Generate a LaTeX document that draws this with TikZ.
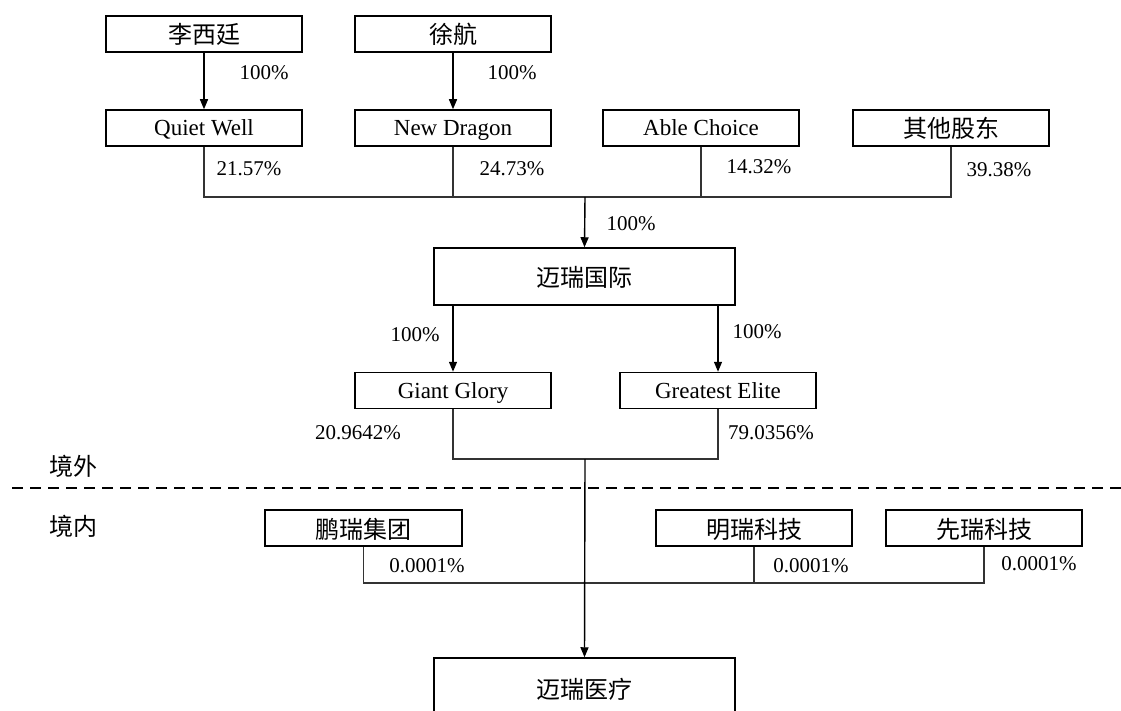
\documentclass[tikz,border=0pt]{standalone}
\usepackage{fontspec}
\setmainfont{Liberation Serif}
\newfontfamily\cjk{Noto Sans CJK SC}
\usetikzlibrary{arrows.meta}

\tikzset{
  box/.style={draw, line width=1.5pt, minimum width=196pt, minimum height=36pt,
    inner sep=0pt, text height=16pt, text depth=0pt, font=\fontsize{23}{27}\selectfont},
  cbox/.style={box, text height=20pt, font=\cjk\fontsize{24}{28}\selectfont},
  pct/.style={inner sep=0pt, text height=15pt, text depth=0pt, font=\fontsize{21}{25}\selectfont},
  zone/.style={inner sep=0pt, text height=20pt, text depth=0pt, font=\cjk\fontsize{24}{28}\selectfont},
  arr/.style={-{Triangle[length=10pt,width=8pt]}, line width=1.4pt},
  link/.style={line width=1.4pt, draw=black!80},
}

\begin{document}
\begin{tikzpicture}[x=1pt,y=-1pt]
  \useasboundingbox (0,0) rectangle (1121,711);
  % shareholders
  \node[cbox] (li) at (204,34)  {李西廷};
  \node[cbox] (xu) at (453,34)  {徐航};
  \node[box]  (qw) at (204,128) {Quiet Well};
  \node[box]  (nd) at (453,128) {New Dragon};
  \node[box]  (ac) at (701,128) {Able Choice};
  \node[cbox] (ot) at (951,128) {其他股东};
  \node[cbox, minimum width=301pt, minimum height=57pt] (mi) at (584.5,276.5) {迈瑞国际};
  \node[box]  (gg) at (453,390.5) {Giant Glory};
  \node[box]  (ge) at (718,390.5) {Greatest Elite};
  % domestic
  \node[cbox, minimum width=197pt] (pr) at (363.5,528) {鹏瑞集团};
  \node[cbox] (mr) at (754,528) {明瑞科技};
  \node[cbox] (xr) at (984,528) {先瑞科技};
  \node[cbox, minimum width=301pt, minimum height=60pt] (my) at (584.5,688) {迈瑞医疗};

  \coordinate (topbus) at (585,197);
  \coordinate (midbus) at (585,459);
  \coordinate (lowbus) at (585,583);

  % connectors
  \draw[arr] (li) -- (qw);
  \draw[arr] (xu) -- (nd);
  \draw[link] (qw.south) |- (topbus) -| (ot.south);
  \draw[link] (nd.south) -- (nd.south |- topbus);
  \draw[link] (ac.south) -- (ac.south |- topbus);
  \draw[arr] (topbus) -- (mi.north);
  \draw[arr] (mi.south -| gg.north) -- (gg.north);
  \draw[arr] (mi.south -| ge.north) -- (ge.north);
  \draw[link] (gg.south) |- (midbus) -| (ge.south);
  \draw[link] (pr.south) |- (lowbus) -| (xr.south);
  \draw[link] (mr.south) -- (mr.south |- lowbus);
  \draw[arr] (midbus) -- (my.north);

  % border line
  \draw[line width=2.4pt, dash pattern=on 11pt off 7pt] (12,488) -- (1121,488);
  \node[zone] (out) at (73,465) {境外};
  \node[zone] (in)  at (73,525) {境内};

  % percentages
  \node[pct] at (264,72)  {100\%};
  \node[pct] at (512,72)  {100\%};
  \node[pct] at (249,168) {21.57\%};
  \node[pct] at (512,168) {24.73\%};
  \node[pct] at (759,166) {14.32\%};
  \node[pct] at (999,169) {39.38\%};
  \node[pct] at (631,223) {100\%};
  \node[pct] at (415,334) {100\%};
  \node[pct] at (757,331) {100\%};
  \node[pct] at (358,432) {20.9642\%};
  \node[pct] at (771,432) {79.0356\%};
  \node[pct] at (427,565) {0.0001\%};
  \node[pct] at (811,565) {0.0001\%};
  \node[pct] at (1039,563) {0.0001\%};
\end{tikzpicture}
\end{document}
